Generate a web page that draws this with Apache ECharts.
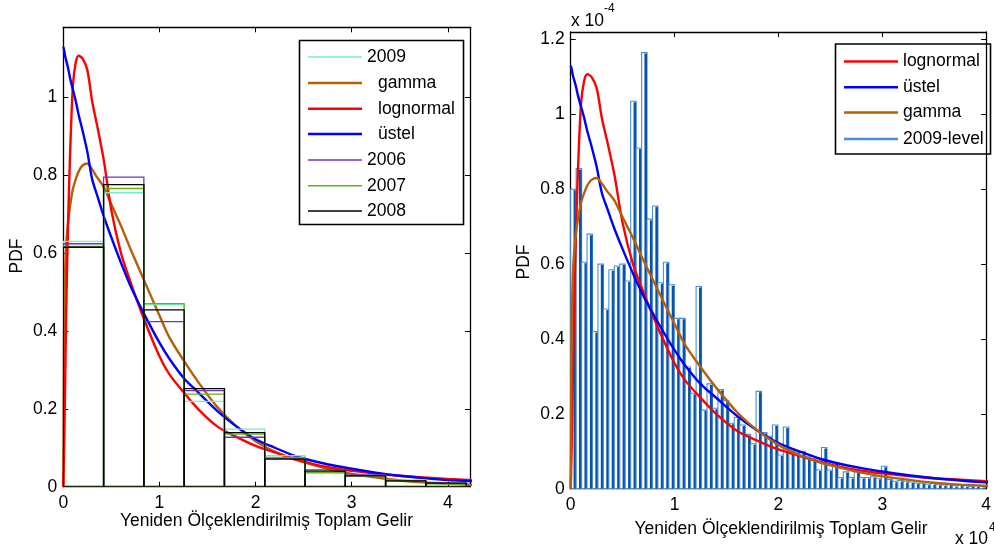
<!DOCTYPE html>
<html><head><meta charset="utf-8">
<script src="https://cdn.jsdelivr.net/npm/echarts@6/dist/echarts.min.js"></script>
<style>html,body{margin:0;padding:0;background:#fff}#c{width:994px;height:551px}</style>
</head><body><div id="c"></div>
<script>
// ---- data ----
const leftBinEdges = [0, 0.419, 0.838, 1.257, 1.676, 2.095, 2.514, 2.933, 3.352, 3.771, 4.19];
const hist2009 = [0.630, 0.755, 0.468, 0.219, 0.148, 0.080, 0.035, 0.028, 0.016, 0.008];
const hist2006 = [0.624, 0.795, 0.424, 0.247, 0.127, 0.073, 0.043, 0.030, 0.015, 0.009];
const hist2007 = [0.617, 0.766, 0.470, 0.238, 0.135, 0.075, 0.036, 0.027, 0.016, 0.007];
const hist2008 = [0.615, 0.776, 0.454, 0.252, 0.139, 0.071, 0.040, 0.028, 0.015, 0.009];

const curveX =     [0, 0.01, 0.02, 0.03, 0.05, 0.07, 0.1, 0.13, 0.16, 0.2, 0.25, 0.3, 0.35, 0.42, 0.5, 0.6, 0.7, 0.84, 1.0, 1.1, 1.25, 1.4, 1.6, 1.8, 2.0, 2.2, 2.4, 2.6, 2.8, 3.0, 3.25, 3.5, 3.75, 4.0, 4.25];
const lognormalY = [0, 0.12, 0.28, 0.45, 0.68, 0.85, 1.03, 1.09, 1.107, 1.10, 1.07, 0.99, 0.93, 0.84, 0.71, 0.60, 0.525, 0.43, 0.335, 0.29, 0.243, 0.20, 0.155, 0.128, 0.105, 0.088, 0.072, 0.058, 0.048, 0.041, 0.034, 0.028, 0.024, 0.020, 0.017];
const ustelY =     [1.13, 1.12, 1.105, 1.095, 1.075, 1.05, 1.02, 0.99, 0.955, 0.915, 0.86, 0.79, 0.75, 0.695, 0.64, 0.575, 0.515, 0.444, 0.37, 0.33, 0.28, 0.243, 0.195, 0.155, 0.122, 0.10, 0.08, 0.066, 0.055, 0.046, 0.036, 0.028, 0.022, 0.017, 0.014];
const gammaY =     [0, 0.45, 0.56, 0.62, 0.68, 0.72, 0.765, 0.79, 0.81, 0.825, 0.83, 0.815, 0.795, 0.77, 0.725, 0.67, 0.61, 0.53, 0.44, 0.385, 0.325, 0.27, 0.205, 0.155, 0.117, 0.09, 0.07, 0.056, 0.043, 0.033, 0.024, 0.016, 0.011, 0.008, 0.005];

const levelBinWidth = 0.0525;
const level2009 = [0.80, 0.855, 0.605, 0.68, 0.42, 0.60, 0.48, 0.585, 0.595, 0.60, 0.555, 1.035, 0.91, 1.165, 0.72, 0.755, 0.55, 0.605, 0.545, 0.455,
  0.455, 0.325, 0.255, 0.54, 0.21, 0.28, 0.215, 0.265, 0.235, 0.175, 0.19, 0.17, 0.145, 0.12, 0.26, 0.15, 0.14, 0.17, 0.09, 0.165,
  0.105, 0.10, 0.10, 0.085, 0.08, 0.05, 0.11, 0.05, 0.07, 0.03, 0.045, 0.03, 0.045, 0.03, 0.03, 0.032, 0.028, 0.06, 0.025, 0.02,
  0.022, 0.02, 0.018, 0.015, 0.015, 0.012, 0.014, 0.012, 0.01, 0.012, 0.008, 0.01, 0.008, 0.007, 0.008, 0.006];

const leftYTicks = [0, 0.2, 0.4, 0.6, 0.8, 1];
const rightYTicks = [0, 0.2, 0.4, 0.6, 0.8, 1, 1.2];

// ---- build ----
const FONT = "'Liberation Sans', Arial, sans-serif";
const FS = 17.5;
const colors = {y2009:'#6ff2c4', gamma:'#b45f0a', lognormal:'#ff0000', ustel:'#0000ff', y2006:'#7232c4', y2007:'#5cb80e', y2008:'#000000', level:'#4a8ed6', levelDark:'#0652ad'};

function histData(vals){ return vals.map((v,i)=>[leftBinEdges[i], leftBinEdges[i+1], v]); }
function outlineRender(color){
  return function(params, api){
    const a = api.coord([api.value(0), api.value(2)]);
    const b = api.coord([api.value(1), 0]);
    return {type:'rect', shape:{x:a[0], y:a[1], width:b[0]-a[0], height:b[1]-a[1]},
      style:{fill:'none', stroke:color, lineWidth:1.3}};
  };
}
function levelRender(params, api){
  const a = api.coord([api.value(0), api.value(2)]);
  const b = api.coord([api.value(1), 0]);
  const w = b[0]-a[0], h = b[1]-a[1];
  return {type:'group', children:[
    {type:'rect', shape:{x:a[0], y:a[1], width:w, height:h}, style:{fill:'#ffffff', stroke:colors.level, lineWidth:1.1}},
    {type:'rect', shape:{x:b[0]-2.6, y:a[1]+1, width:2.6, height:h-1}, style:{fill:colors.levelDark}}
  ]};
}
const curve = ys => curveX.map((x,i)=>[x, ys[i]]);
const levelData = level2009.map((v,i)=>[i*levelBinWidth, (i+1)*levelBinWidth, v]);

function mkLine(name, ys, color, xi, yi){
  return {type:'line', name, data:curve(ys), xAxisIndex:xi, yAxisIndex:yi, showSymbol:false, smooth:0.3,
    color, lineStyle:{color, width:2.4}, clip:true, z:3};
}
function mkHist(name, vals, color){
  return {type:'custom', name, data:histData(vals), xAxisIndex:0, yAxisIndex:0, renderItem:outlineRender(color),
    color, itemStyle:{color}, clip:true, z:4};
}

const lbl = {fontSize:FS, color:'#000', fontFamily:FONT};
function xAx(grid, max, pos, show){
  return {type:'value', gridIndex:grid, min:0, max, interval:1, position:pos,
    axisLine:{show:true, onZero:false, lineStyle:{color:'#000', width:1.3}},
    axisTick:{show:true, inside:true, length:5, lineStyle:{color:'#000'}},
    axisLabel:{show, ...lbl, margin:7, showMaxLabel: max===4, formatter:v=>String(Math.round(v*100)/100)},
    splitLine:{show:false}};
}
function yAx(grid, max, pos, show, ticks){
  return {type:'value', gridIndex:grid, min:0, max, interval:0.2, position:pos,
    axisLine:{show:true, onZero:false, lineStyle:{color:'#000', width:1.3}},
    axisTick:{show:true, inside:true, length:5, lineStyle:{color:'#000'}},
    axisLabel:{show, ...lbl, margin:6, showMaxLabel:false,
      formatter:v=>{const r=Math.round(v*10)/10; return ticks.some(t=>Math.abs(t-v)<1e-6)? String(r):'';}},
    splitLine:{show:false}};
}

function leg(name, top, left, thick, color, pad){
  return {show:true, orient:'vertical', left, top, padding:0, itemWidth:54, itemHeight:thick, itemGap:0,
    icon:'rect', selectedMode:false,
    data:[{name, icon:'rect', itemStyle:{color}}],
    textStyle:{fontSize:FS, fontFamily:FONT, color:'#000', lineHeight:20, padding:[0,0,0,pad||0]}};
}

const option = {
  animation:false,
  backgroundColor:'#ffffff',
  grid:[
    {left:63.3, top:27.3, width:406.7, height:459.4, containLabel:false},
    {left:570.7, top:32, width:419.3, height:456.7, containLabel:false}
  ],
  xAxis:[xAx(0,4.23,'bottom',true), xAx(0,4.23,'top',false), xAx(1,4,'bottom',true), xAx(1,4,'top',false)],
  yAxis:[yAx(0,1.18,'left',true,leftYTicks), yAx(0,1.18,'right',false,leftYTicks), yAx(1,1.22,'left',true,rightYTicks), yAx(1,1.22,'right',false,rightYTicks)],
  legend:[
    leg('2009', 47, 308, 1.5, colors.y2009),
    leg('gamma', 73, 308, 2.5, colors.gamma, 11),
    leg('lognormal', 98.7, 308, 2.5, colors.lognormal, 11),
    leg('üstel', 124, 308, 2.5, colors.ustel, 11),
    leg('2006', 150, 308, 1.5, colors.y2006),
    leg('2007', 175.7, 308, 1.5, colors.y2007),
    leg('2008', 201, 308, 1.5, colors.y2008),
    leg('lognormal', 51.5, 844, 2.5, colors.lognormal),
    leg('üstel', 77.2, 844, 2.5, colors.ustel),
    leg('gamma', 102.5, 844, 2.5, colors.gamma),
    leg('2009-level', 128.9, 844, 2.5, colors.level)
  ],
  graphic:[
    {type:'rect', left:297, top:38, shape:{width:164, height:184}, style:{fill:'none', stroke:'#000', lineWidth:1.6}, z:10},
    {type:'rect', left:833, top:41.5, shape:{width:155, height:110}, style:{fill:'none', stroke:'#000', lineWidth:1.6}, z:10},
    {type:'text', x:17, y:256, rotation:Math.PI/2, style:{text:'PDF', fontSize:FS, fontFamily:FONT, fill:'#000', textAlign:'center', textVerticalAlign:'middle'}},
    {type:'text', x:524, y:262, rotation:Math.PI/2, style:{text:'PDF', fontSize:FS, fontFamily:FONT, fill:'#000', textAlign:'center', textVerticalAlign:'middle'}},
    {type:'text', x:266.5, y:521, style:{text:'Yeniden Ölçeklendirilmiş Toplam Gelir', fontSize:FS, fontFamily:FONT, fill:'#000', textAlign:'center', textVerticalAlign:'middle'}},
    {type:'text', x:781, y:529, style:{text:'Yeniden Ölçeklendirilmiş Toplam Gelir', fontSize:FS, fontFamily:FONT, fill:'#000', textAlign:'center', textVerticalAlign:'middle'}},
    {type:'text', x:571, y:21, style:{text:'x 10', fontSize:FS, fontFamily:FONT, fill:'#000', textAlign:'left', textVerticalAlign:'middle'}},
    {type:'text', x:604, y:9, style:{text:'-4', fontSize:12, fontFamily:FONT, fill:'#000', textAlign:'left', textVerticalAlign:'middle'}},
    {type:'text', x:955, y:539, style:{text:'x 10', fontSize:FS, fontFamily:FONT, fill:'#000', textAlign:'left', textVerticalAlign:'middle'}},
    {type:'text', x:989, y:528, style:{text:'4', fontSize:12, fontFamily:FONT, fill:'#000', textAlign:'left', textVerticalAlign:'middle'}}
  ],
  series:[
    mkHist('2009', hist2009, colors.y2009),
    mkLine('gamma', gammaY, colors.gamma, 0, 0),
    mkLine('lognormal', lognormalY, colors.lognormal, 0, 0),
    mkLine('üstel', ustelY, colors.ustel, 0, 0),
    mkHist('2006', hist2006, colors.y2006),
    mkHist('2007', hist2007, colors.y2007),
    mkHist('2008', hist2008, colors.y2008),
    {type:'custom', name:'2009-level', data:levelData, xAxisIndex:2, yAxisIndex:2, renderItem:levelRender,
      color:colors.level, itemStyle:{color:colors.level}, clip:true, z:2},
    mkLine('lognormal', lognormalY, colors.lognormal, 2, 2),
    mkLine('üstel', ustelY, colors.ustel, 2, 2),
    mkLine('gamma', gammaY, colors.gamma, 2, 2)
  ]
};
const chart = echarts.init(document.getElementById('c'), null, {renderer:'canvas'});
chart.setOption(option);
</script></body></html>
